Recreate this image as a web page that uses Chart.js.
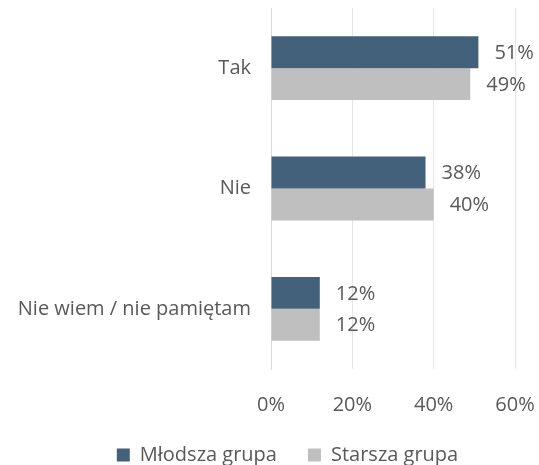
<!DOCTYPE html>
<html>
<head>
<meta charset="utf-8">
<script src="https://cdn.jsdelivr.net/npm/chart.js@4.4.0/dist/chart.umd.min.js"></script>
<style>
  html, body { margin: 0; padding: 0; background: #fff; }
  #wrap { width: 539px; height: 465px; }
</style>
</head>
<body>
<div id="wrap"><canvas id="chart" width="539" height="465"></canvas></div>
<script>
// dane
const categories = ["Tak", "Nie", "Nie wiem / nie pamiętam"];
const mlodsza = [51, 38, 12];
const starsza = [49, 40, 12];
const xTicks = [0, 20, 40, 60];

const textColor = "#595959";
const font = { family: "'Open Sans', 'Noto Sans', sans-serif", size: 20 };

// etykiety wartości obok słupków
const valueLabels = {
  id: "valueLabels",
  afterLayout(chart) {
    // legenda przesunięta w prawo jak w oryginale
    chart.legend.left += 30;
    chart.legend.right += 30;
  },
  afterDatasetsDraw(chart) {
    const ctx = chart.ctx;
    ctx.save();
    ctx.font = `${font.size}px ${font.family}`;
    ctx.fillStyle = textColor;
    ctx.textAlign = "left";
    ctx.textBaseline = "middle";
    chart.data.datasets.forEach((ds, i) => {
      chart.getDatasetMeta(i).data.forEach((bar, j) => {
        ctx.fillText(ds.data[j] + "%", bar.x + 16, bar.y + 1);
      });
    });
    ctx.restore();
  }
};

new Chart(document.getElementById("chart"), {
  type: "bar",
  data: {
    labels: categories,
    datasets: [
      {
        label: "Młodsza grupa",
        data: mlodsza,
        backgroundColor: "#44617b",
        borderWidth: 0,
        categoryPercentage: 0.53,
        barPercentage: 1.0,
      },
      {
        label: "Starsza grupa",
        data: starsza,
        backgroundColor: "#bfbfbf",
        borderWidth: 0,
        categoryPercentage: 0.53,
        barPercentage: 1.0,
      },
    ],
  },
  options: {
    indexAxis: "y",
    responsive: false,
    animation: false,
    layout: { padding: { top: 8, right: 24, left: 0, bottom: -10 } },
    plugins: {
      legend: {
        position: "bottom",
        labels: {
          font: font,
          color: textColor,
          boxWidth: 13,
          boxHeight: 13,
          padding: 31,
        },
      },
      tooltip: { enabled: false },
    },
    scales: {
      x: {
        min: 0,
        max: 60,
        afterBuildTicks: (scale) => { scale.ticks = xTicks.map(v => ({ value: v })); },
        afterFit: (scale) => {
          scale.height -= 27;
          scale.paddingLeft = 0;
          scale.paddingRight = 0;
        },
        ticks: {
          color: textColor,
          font: font,
          padding: 24,
          callback: (v) => v + "%",
        },
        grid: { color: "#e6e6e6", drawTicks: false },
        border: { display: false },
      },
      y: {
        afterFit: (scale) => {
          scale.width = 271;
          scale.paddingTop = 0;
          scale.paddingBottom = 0;
        },
        ticks: { color: textColor, font: font, padding: 20 },
        grid: { display: false, drawTicks: false },
        border: { color: "#d9d9d9", width: 1 },
      },
    },
  },
  plugins: [valueLabels],
});
</script>
</body>
</html>
